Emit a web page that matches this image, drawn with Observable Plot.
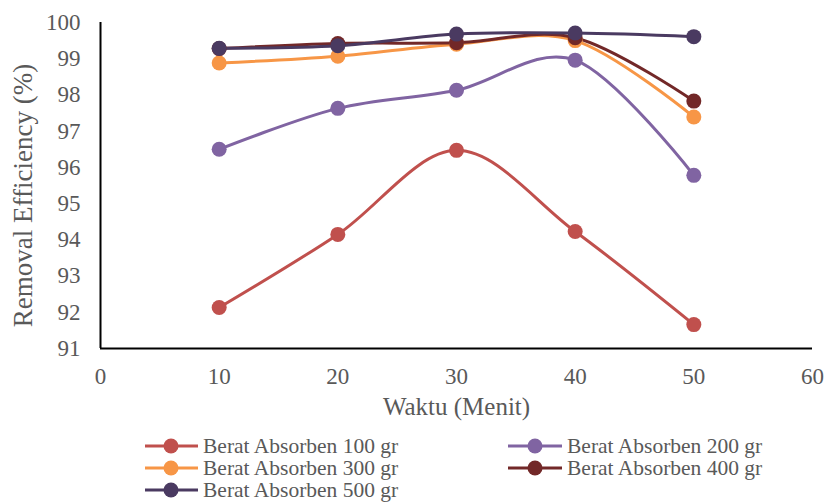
<!DOCTYPE html>
<html>
<head>
<meta charset="utf-8">
<script src="https://cdn.jsdelivr.net/npm/d3@7"></script>
<script src="https://cdn.jsdelivr.net/npm/@observablehq/plot@0.6"></script>
<style>
  html, body { margin: 0; padding: 0; background: #fff; }
  #wrap { position: relative; width: 827px; height: 504px; font-family: 'Liberation Serif', serif; }
  #legend { position: absolute; left: 0; top: 430px; }
</style>
</head>
<body>
<div id="wrap"><div id="chart"></div><div id="legend"></div></div>
<script>
const waktu = [10, 20, 30, 40, 50];
const seriesNames = ["Berat Absorben 100 gr", "Berat Absorben 200 gr", "Berat Absorben 300 gr", "Berat Absorben 400 gr", "Berat Absorben 500 gr"];
const eff100 = [92.13, 94.15, 96.47, 94.23, 91.66];
const eff200 = [96.50, 97.63, 98.13, 98.96, 95.78];
const eff300 = [98.88, 99.07, 99.40, 99.50, 97.39];
const eff400 = [99.28, 99.42, 99.44, 99.58, 97.83];
const eff500 = [99.29, 99.36, 99.68, 99.71, 99.61];
const seriesColors = ["#C0504D", "#8064A2", "#F79646", "#722828", "#4A3A61"];
const xTicks = [0, 10, 20, 30, 40, 50, 60];
const yTicks = [91, 92, 93, 94, 95, 96, 97, 98, 99, 100];
const xTitle = "Waktu (Menit)";
const yTitle = "Removal Efficiency (%)";

const allSeries = [eff100, eff200, eff300, eff400, eff500];
const rows = [];
allSeries.forEach((vals, i) => vals.forEach((v, j) => rows.push({series: seriesNames[i], waktu: waktu[j], eff: v})));

const textColor = "#595959";
const serif = "Liberation Serif";

const chart = Plot.plot({
  width: 827,
  height: 430,
  marginLeft: 100,
  marginRight: 15,
  marginTop: 22,
  marginBottom: 82,
  style: {background: "#fff", color: textColor, fontFamily: serif},
  x: {domain: [0, 60]},
  y: {domain: [91, 100]},
  color: {domain: seriesNames, range: seriesColors},
  marks: [
    Plot.axisX({ticks: xTicks, tickSize: 0, tickPadding: 19, fontSize: 23, label: null, fill: textColor}),
    Plot.axisY({ticks: yTicks, tickSize: 0, tickPadding: 20, fontSize: 23, label: null, fill: textColor}),
    Plot.ruleY([91], {stroke: "#000", strokeWidth: 2}),
    Plot.ruleX([0], {stroke: "#000", strokeWidth: 2}),
    Plot.lineY(rows, {x: "waktu", y: "eff", z: "series", stroke: "series", strokeWidth: 3, curve: "cardinal"}),
    Plot.dot(rows, {x: "waktu", y: "eff", fill: "series", r: 7.5, stroke: "none"}),
    Plot.text([xTitle], {frameAnchor: "bottom", textAnchor: "middle", dy: 66, fontSize: 25, fill: textColor}),
    Plot.text([yTitle], {frameAnchor: "left", textAnchor: "middle", dx: -77, dy: 10, rotate: -90, fontSize: 27, fill: textColor})
  ]
});
d3.select(chart).attr("font-family", serif);
d3.select(chart).selectAll("g, text").attr("font-family", serif).style("font-family", serif);
document.getElementById("chart").appendChild(chart);

// Legend
const legendCols = [{x1: 145, x2: 198, cx: 171, tx: 203}, {x1: 508, x2: 562, cx: 535, tx: 567}];
const legendBaselines = [23, 45, 67];
const lsvg = d3.select("#legend").append("svg").attr("width", 827).attr("height", 74).attr("font-family", serif);
seriesNames.forEach((name, i) => {
  const col = legendCols[i % 2];
  const base = legendBaselines[Math.floor(i / 2)];
  const cy = base - 7;
  const g = lsvg.append("g");
  g.append("line").attr("x1", col.x1).attr("x2", col.x2).attr("y1", cy).attr("y2", cy)
    .attr("stroke", seriesColors[i]).attr("stroke-width", 3);
  g.append("circle").attr("cx", col.cx).attr("cy", cy).attr("r", 7.5).attr("fill", seriesColors[i]);
  g.append("text").attr("x", col.tx).attr("y", base).attr("font-size", 21.5).attr("fill", textColor)
    .attr("font-family", serif).style("font-family", serif).text(name);
});
</script>
</body>
</html>
